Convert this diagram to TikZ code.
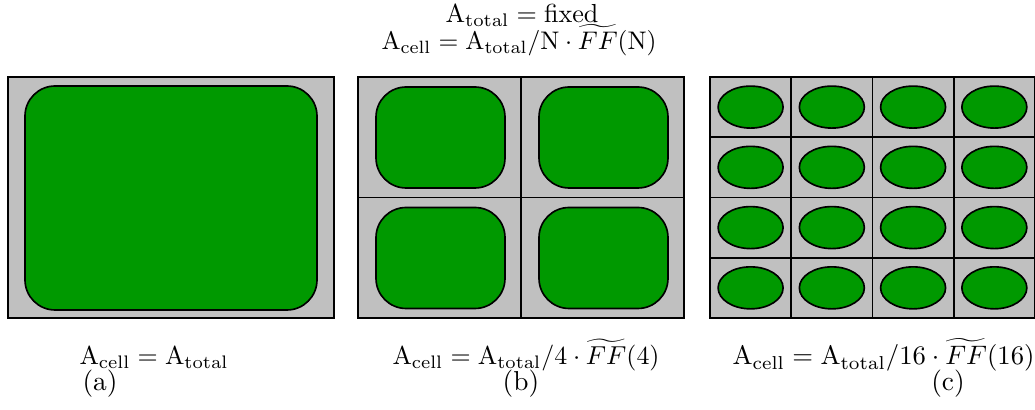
\documentclass[tikz,border=0pt]{standalone}
\usepackage{amsmath}
\usepackage{graphicx}
\definecolor{cellgray}{RGB}{192,192,192}
\definecolor{cellgreen}{RGB}{0,153,0}
\newlength{\pxu}
\setlength{\pxu}{0.365pt}
\newcommand{\fitw}[2]{\resizebox{#1\pxu}{!}{#2}}
\begin{document}
\begin{tikzpicture}[x=0.365pt,y=-0.365pt,
  panel/.style={draw=black,fill=cellgray,line width=0.65pt},
  frame/.style={draw=black,line width=0.75pt},
  blob/.style={draw=black,fill=cellgreen,line width=0.6pt},
  lbl/.style={inner sep=0pt}]
\useasboundingbox (0,0) rectangle (1035,410);
% panel (a)
\path[panel] (8,77) rectangle (334,318);
\path[frame] (8,77) rectangle (334,318);
\path[blob,rounded corners=11pt] (25,86) rectangle (317,310);
% panel (b)
\foreach \i in {0,1}{
  \foreach \j in {0,1}{
    \pgfmathsetmacro{\xa}{358+\i*163}
    \pgfmathsetmacro{\ya}{77+\j*120.5}
    \path[panel] (\xa,\ya) rectangle ++(163,120.5);
    \path[blob,rounded corners=11pt] (\xa+18,\ya+10) rectangle (\xa+147,\ya+111);
  }
}
\path[frame] (358,77) rectangle (684,318);
% panel (c)
\foreach \i in {0,...,3}{
  \foreach \j in {0,...,3}{
    \pgfmathsetmacro{\xa}{710+\i*81.25}
    \pgfmathsetmacro{\ya}{77+\j*60.25}
    \path[panel] (\xa,\ya) rectangle ++(81.25,60.25);
    \path[blob] (\xa+40.6,\ya+30.1) ellipse [x radius=32.5, y radius=21];
  }
}
\path[frame] (710,77) rectangle (1035,318);
% texts
\node[lbl,anchor=base west] (t1) at (445,23) {\fitw{153}{$\mathrm{A}_\mathrm{total}=\mathrm{fixed}$}};
\node[lbl,anchor=base west] (t2) at (381,50) {\fitw{275}{$\mathrm{A}_\mathrm{cell}=\mathrm{A}_\mathrm{total}/\mathrm{N}\cdot\widetilde{FF}(\mathrm{N})$}};
\node[lbl,anchor=base west] (fa) at (79,365) {\fitw{149}{$\mathrm{A}_\mathrm{cell}=\mathrm{A}_\mathrm{total}$}};
\node[lbl,anchor=base west] (fb) at (392,365) {\fitw{267}{$\mathrm{A}_\mathrm{cell}=\mathrm{A}_\mathrm{total}/4\cdot\widetilde{FF}(4)$}};
\node[lbl,anchor=base west] (fc) at (732,365) {\fitw{302}{$\mathrm{A}_\mathrm{cell}=\mathrm{A}_\mathrm{total}/16\cdot\widetilde{FF}(16)$}};
\node[lbl,anchor=base west] (la) at (82,391) {(a)};
\node[lbl,anchor=base] (lb) at (521,391) {(b)};
\node[lbl,anchor=base] (lc) at (948,391) {(c)};
\end{tikzpicture}
\end{document}
